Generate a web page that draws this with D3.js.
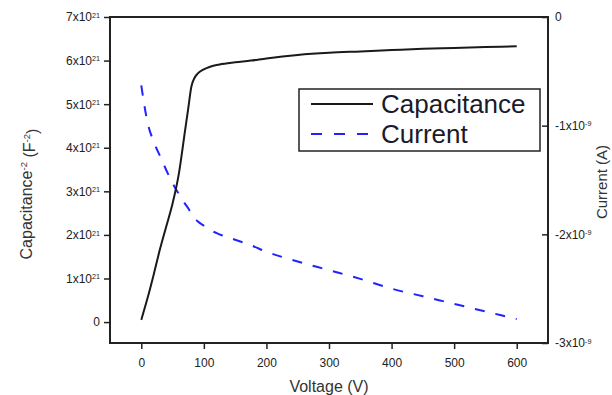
<!DOCTYPE html>
<html><head><meta charset="utf-8">
<script src="https://cdn.jsdelivr.net/npm/d3@7/dist/d3.min.js"></script>
<style>body{margin:0;background:#fff}svg{display:block}text{font-family:Arial,"Liberation Sans",sans-serif}</style>
</head><body><svg id="c" width="612" height="395"></svg>
<script>
// Data
const voltage = [0,10,20,30,40,50,60,70,75,80,85,90,100,110,125,150,175,200,250,300,350,400,450,500,550,600];
// Capacitance^-2 in units of 1e21 F^-2
const capacitance = [0.05,0.55,1.1,1.68,2.2,2.72,3.4,4.4,4.9,5.4,5.6,5.7,5.8,5.86,5.91,5.96,6.0,6.05,6.13,6.18,6.21,6.24,6.27,6.29,6.31,6.33];
// Current in units of 1e-9 A
const current = [-0.63,-0.97,-1.15,-1.28,-1.41,-1.53,-1.63,-1.72,-1.76,-1.81,-1.85,-1.88,-1.92,-1.96,-2.0,-2.05,-2.1,-2.16,-2.25,-2.33,-2.41,-2.5,-2.57,-2.64,-2.71,-2.78];
const xTicks = [0,100,200,300,400,500,600];
const leftTicks = [0,1,2,3,4,5,6,7];
const rightTicks = [0,-1,-2,-3];
const seriesNames = ["Capacitance","Current"];

const svg = d3.select("#c");
const L=110,R=548,T=17,B=343;
const x = d3.scaleLinear().domain([-50,650]).range([L,R]);
const yL = d3.scaleLinear().domain([-0.48,7]).range([B,T]);
const yR = d3.scaleLinear().domain([-3,0]).range([B,T]);
const ink="#222";

// curves
const capLine = d3.line().x((d,i)=>x(voltage[i])).y(d=>yL(d)).curve(d3.curveMonotoneX);
const curLine = d3.line().x((d,i)=>x(voltage[i])).y(d=>yR(d)).curve(d3.curveMonotoneX);
svg.append("path").attr("d",curLine(current)).attr("fill","none").attr("stroke","#2222ff").attr("stroke-width",2).attr("stroke-dasharray","10,11");
svg.append("path").attr("d",capLine(capacitance)).attr("fill","none").attr("stroke","#1a1a1a").attr("stroke-width",2);

// frame
svg.append("rect").attr("x",L).attr("y",T).attr("width",R-L).attr("height",B-T).attr("fill","none").attr("stroke",ink).attr("stroke-width",2);

function sup(sel, base, exp){
  sel.text(null);
  sel.append("tspan").text(base);
  if(exp!==null) sel.append("tspan").attr("dy","-0.5em").attr("font-size","0.6em").text(exp);
}

// bottom axis
const gx = svg.append("g").attr("transform",`translate(0,${B})`).call(d3.axisBottom(x).tickValues(xTicks).tickSize(6).tickPadding(9).tickFormat(d3.format("d")));
gx.select(".domain").remove();
gx.selectAll("line").attr("stroke",ink).attr("stroke-width",1.5);
gx.selectAll("text").attr("font-size",12).attr("fill",ink).attr("font-family","Arial, Liberation Sans");

// left axis
const gl = svg.append("g").attr("transform",`translate(${L},0)`).call(d3.axisLeft(yL).tickValues(leftTicks).tickSize(6).tickPadding(4));
gl.select(".domain").remove();
gl.selectAll("line").attr("stroke",ink).attr("stroke-width",1.5);
gl.selectAll("text").attr("font-size",12).attr("fill",ink).attr("font-family","Arial, Liberation Sans")
  .each(function(d){ if(d===0) sup(d3.select(this),"0",null); else sup(d3.select(this), d+"x10","21"); });

// right axis
const gr = svg.append("g").attr("transform",`translate(${R},0)`).call(d3.axisLeft(yR).tickValues(rightTicks).tickSize(6).tickPadding(0));
gr.select(".domain").remove();
gr.selectAll("line").attr("stroke",ink).attr("stroke-width",1.5);
gr.selectAll("text").attr("font-size",12).attr("fill",ink).attr("font-family","Arial, Liberation Sans").attr("text-anchor","start").attr("x",7)
  .each(function(d){ if(d===0) sup(d3.select(this),"0",null); else sup(d3.select(this), d+"x10","-9"); });

// axis titles
svg.append("text").attr("x",329).attr("y",392).attr("text-anchor","middle").attr("font-size",16).attr("fill","#333").text("Voltage (V)");
const lt = svg.append("text").attr("transform","translate(32,194) rotate(-90)").attr("text-anchor","middle").attr("font-size",16).attr("fill","#333");
lt.append("tspan").text("Capacitance");
lt.append("tspan").attr("dy","-0.5em").attr("font-size","0.6em").text("-2");
lt.append("tspan").attr("dy","0.5em").text(" (F");
lt.append("tspan").attr("dy","-0.5em").attr("font-size","0.6em").text("-2");
lt.append("tspan").attr("dy","0.5em").text(")");
svg.append("text").attr("transform","translate(607,182) rotate(-90)").attr("text-anchor","middle").attr("font-size",15).attr("fill","#333").text("Current (A)");

// legend
const lg = svg.append("g");
lg.append("rect").attr("x",299).attr("y",89).attr("width",241).attr("height",62).attr("fill","#fff").attr("stroke",ink).attr("stroke-width",1.5);
const ly=[104,134];
lg.append("line").attr("x1",311).attr("x2",373).attr("y1",ly[0]).attr("y2",ly[0]).attr("stroke","#1a1a1a").attr("stroke-width",2);
lg.append("line").attr("x1",311).attr("x2",372).attr("y1",ly[1]).attr("y2",ly[1]).attr("stroke","#2222ff").attr("stroke-width",2).attr("stroke-dasharray","11,12");
seriesNames.forEach((n,i)=>lg.append("text").attr("x",381).attr("y",ly[i]+9).attr("font-size",26).attr("fill","#1a1a2a").text(n));
</script></body></html>
